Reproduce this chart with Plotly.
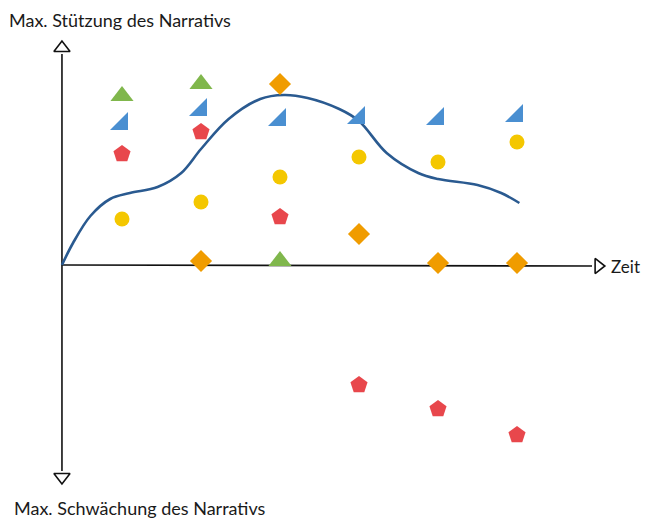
import plotly.graph_objects as go

# Time columns (1..6) and support level (0 = neutral, + = support, - = weakening)
time = [1, 2, 3, 4, 5, 6]

green_t = [1, 2, 3]
green_v = [8.45, 9.05, 0.2]

blue_t = [1, 2, 3, 4, 5, 6]
blue_v = [7.05, 7.75, 7.25, 7.35, 7.3, 7.45]

red_t = [1, 2, 3, 4, 5, 6]
red_v = [5.55, 6.65, 2.4, -6.0, -7.2, -8.5]

yellow_t = [1, 2, 3, 4, 5, 6]
yellow_v = [2.3, 3.15, 4.4, 5.4, 5.15, 6.15]

orange_t = [2, 3, 4, 5, 6]
orange_v = [0.2, 9.05, 1.55, 0.1, 0.1]

# Overall narrative curve
curve_t = [0.24, 0.38, 0.6, 0.85, 1.1, 1.45, 1.75, 2.0, 2.35, 2.75, 3.05, 3.35, 3.75, 4.0, 4.35, 4.75, 5.0, 5.5, 5.8, 6.03]
curve_v = [0.0, 1.1, 2.45, 3.3, 3.6, 3.9, 4.6, 5.8, 7.3, 8.3, 8.5, 8.35, 7.8, 7.2, 5.6, 4.6, 4.3, 4.0, 3.6, 3.1]

origin_t = 0.24
x_end = 7.03
y_top = 10.85
y_bot = -10.6

GREEN = "#80b74c"
BLUE = "#4a8fd1"
RED = "#e8474c"
YELLOW = "#f4c700"
ORANGE = "#f09c00"
NAVY = "#2a5a90"

fig = go.Figure()

fig.add_trace(go.Scatter(x=curve_t, y=curve_v, mode="lines",
                         line=dict(color=NAVY, width=2.6, shape="spline", smoothing=1.0),
                         hoverinfo="skip"))

def pts(x, y, sym, col, size):
    fig.add_trace(go.Scatter(x=x, y=y, mode="markers",
                             marker=dict(symbol=sym, color=col, size=size, line=dict(width=0))))

pts(green_t, green_v, "triangle-up", GREEN, 20)
pts(blue_t, blue_v, "triangle-se", BLUE, 20)
pts(red_t, red_v, "pentagon", RED, 18)
pts(yellow_t, yellow_v, "circle", YELLOW, 15)
pts(orange_t, orange_v, "diamond", ORANGE, 17)

# Axes drawn as lines with open arrowheads
shapes = [
    dict(type="line", xref="x", yref="y", x0=origin_t, y0=y_bot + 0.3, x1=origin_t, y1=y_top - 0.3,
         line=dict(color="#111111", width=1.6), layer="below"),
    dict(type="line", xref="x", yref="y", x0=origin_t, y0=0, x1=x_end - 0.08, y1=-0.05,
         line=dict(color="#111111", width=1.6), layer="below"),
]
fig.update_layout(shapes=shapes)

# open arrowheads
fig.add_trace(go.Scatter(x=[origin_t], y=[y_top], mode="markers",
                         marker=dict(symbol="triangle-up-open", size=14, color="#111111", line=dict(width=1.6)),
                         hoverinfo="skip"))
fig.add_trace(go.Scatter(x=[origin_t], y=[y_bot], mode="markers",
                         marker=dict(symbol="triangle-down-open", size=14, color="#111111", line=dict(width=1.6)),
                         hoverinfo="skip"))
fig.add_trace(go.Scatter(x=[x_end], y=[-0.05], mode="markers",
                         marker=dict(symbol="triangle-right-open", size=13, color="#111111", line=dict(width=1.6)),
                         hoverinfo="skip"))

font = "Lato, 'Open Sans', sans-serif"
fig.add_annotation(x=0.0, y=1.0, xref="paper", yref="paper", text="Max. Stützung des Narrativs",
                   showarrow=False, xanchor="left", yanchor="top", borderpad=0,
                   font=dict(family=font, size=18, color="#1a1a1a"))
fig.add_annotation(x=0.006, y=0.02, xref="paper", yref="paper", text="Max. Schwächung des Narrativs",
                   showarrow=False, xanchor="left", yanchor="middle", font=dict(family=font, size=18, color="#1a1a1a"))
fig.add_annotation(x=x_end + 0.14, y=-0.05, xref="x", yref="y", text="Zeit",
                   showarrow=False, xanchor="left", yanchor="middle", font=dict(family=font, size=17, color="#1a1a1a"))

fig.update_layout(
    width=641, height=510,
    margin=dict(l=0, r=0, t=0, b=0),
    paper_bgcolor="white", plot_bgcolor="white",
    showlegend=False,
    xaxis=dict(range=[-0.443, 7.671], visible=False, fixedrange=True),
    yaxis=dict(range=[-12.65, 12.85], visible=False, fixedrange=True),
)

fig.write_html("out.html")
